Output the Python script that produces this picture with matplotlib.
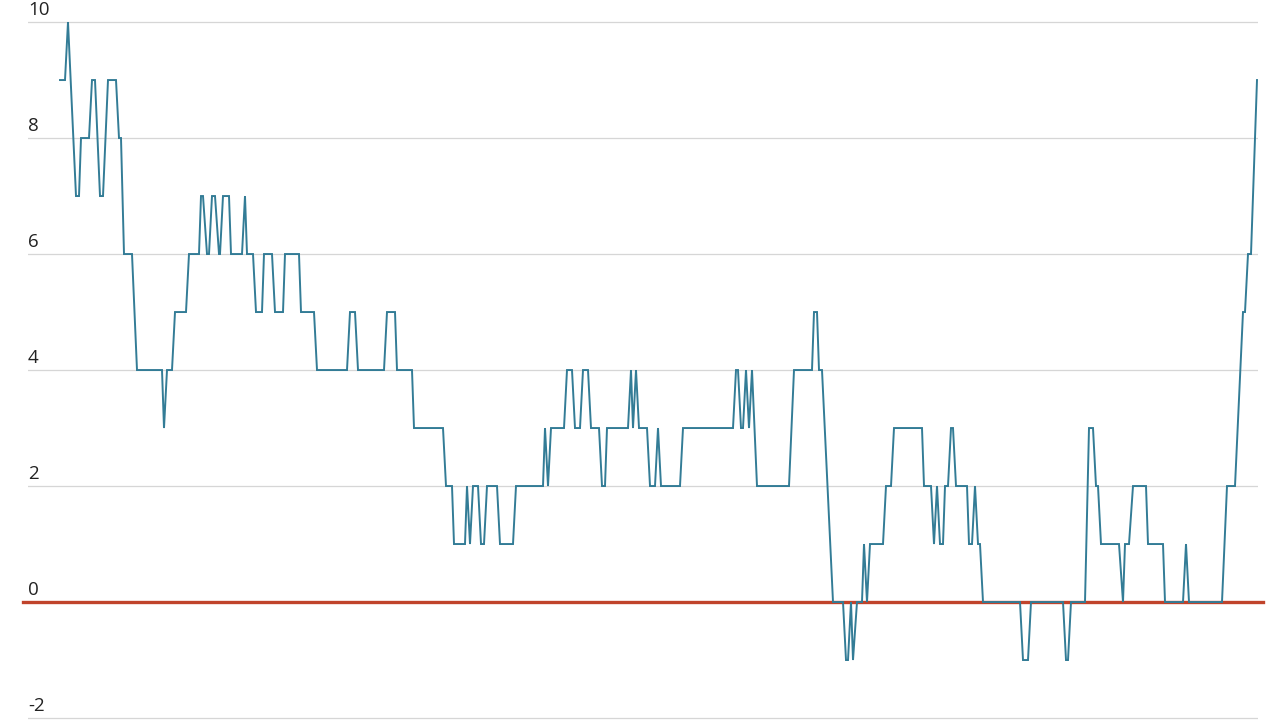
import numpy as np
import matplotlib.pyplot as plt
from matplotlib import transforms

# step positions (time axis, arbitrary units) and the value reached there
t = [0, 5, 8, 16, 19, 21, 29, 32, 35, 40,
     43, 48, 56, 59, 61, 64, 72, 77, 102, 104,
     107, 112, 115, 126, 129, 139, 141, 143, 147, 149,
     152, 155, 159, 160, 163, 169, 171, 182, 185, 187,
     193, 196, 202, 204, 212, 215, 223, 225, 239, 241,
     254, 257, 287, 290, 295, 298, 324, 327, 335, 337,
     352, 354, 383, 386, 392, 394, 405, 407, 410, 413,
     418, 421, 424, 427, 437, 440, 453, 456, 483, 485,
     488, 491, 504, 507, 512, 515, 520, 523, 528, 531,
     539, 542, 545, 547, 568, 571, 573, 576, 579, 587,
     590, 595, 598, 601, 620, 623, 673, 676, 678, 681,
     683, 686, 689, 692, 697, 729, 734, 752, 754, 757,
     759, 762, 773, 783, 786, 788, 791, 793, 797, 802,
     804, 807, 810, 823, 826, 831, 834, 862, 864, 871,
     874, 877, 880, 883, 885, 888, 891, 893, 896, 907,
     909, 912, 915, 918, 920, 923, 960, 963, 968, 971,
     1003, 1006, 1008, 1011, 1025, 1029, 1033, 1036, 1038, 1041,
     1059, 1063, 1065, 1069, 1073, 1086, 1088, 1103, 1105, 1123,
     1126, 1129, 1162, 1167, 1175, 1183, 1185, 1188, 1191, 1197]
score = [9, 9, 10, 7, 7, 8, 8, 9, 9, 7,
         7, 9, 9, 8, 8, 6, 6, 4, 4, 3,
         4, 4, 5, 5, 6, 6, 7, 7, 6, 6,
         7, 7, 6, 6, 7, 7, 6, 6, 7, 6,
         6, 5, 5, 6, 6, 5, 5, 6, 6, 5,
         5, 4, 4, 5, 5, 4, 4, 5, 5, 4,
         4, 3, 3, 2, 2, 1, 1, 2, 1, 2,
         2, 1, 1, 2, 2, 1, 1, 2, 2, 3,
         2, 3, 3, 4, 4, 3, 3, 4, 4, 3,
         3, 2, 2, 3, 3, 4, 3, 4, 3, 3,
         2, 2, 3, 2, 2, 3, 3, 4, 4, 3,
         3, 4, 3, 4, 2, 2, 4, 4, 5, 5,
         4, 4, 0, 0, -1, -1, 0, -1, 0, 0,
         1, 0, 1, 1, 2, 2, 3, 3, 2, 2,
         1, 2, 1, 1, 2, 2, 3, 3, 2, 2,
         1, 1, 2, 1, 1, 0, 0, -1, -1, 0,
         0, -1, -1, 0, 0, 3, 3, 2, 2, 1,
         1, 0, 1, 1, 2, 2, 1, 1, 0, 0,
         1, 0, 0, 2, 2, 5, 5, 6, 6, 9]

y_ticks = [-2, 0, 2, 4, 6, 8, 10]

line_color = "#337c96"
zero_color = "#c0432b"

plt.rcParams['font.family'] = ['Open Sans', 'DejaVu Sans']

fig = plt.figure(figsize=(12.8, 7.2), dpi=100)
ax = fig.add_axes([28 / 1280, 0, 1230 / 1280, 1])

ax.plot(t, score, color=line_color, linewidth=1.4, zorder=3, solid_joinstyle='miter')

ax.set_xlim(-32, 1198)
ax.set_ylim(-2.034, 10.38)

ax.set_yticks(y_ticks)
ax.set_xticks([])
ax.grid(axis='y', color='#d6d6d6', linewidth=0.9)
ax.tick_params(axis='y', length=0, labelleft=False)
for s in ax.spines.values():
    s.set_visible(False)

# zero line, a bit wider than the grid
ax.axhline(0, xmin=-0.004, xmax=1.004, color=zero_color, linewidth=2.4,
           zorder=2, clip_on=False)

# labels sit above their gridline at the left edge
trans = transforms.blended_transform_factory(ax.transAxes, ax.transData)
for v in y_ticks:
    ax.annotate(str(v), xy=(0, v), xycoords=trans, xytext=(0, 2.5),
                textcoords='offset points', ha='left', va='bottom',
                fontsize=13.5, color='#222222', annotation_clip=False)

fig.savefig("out.png", dpi=100)
